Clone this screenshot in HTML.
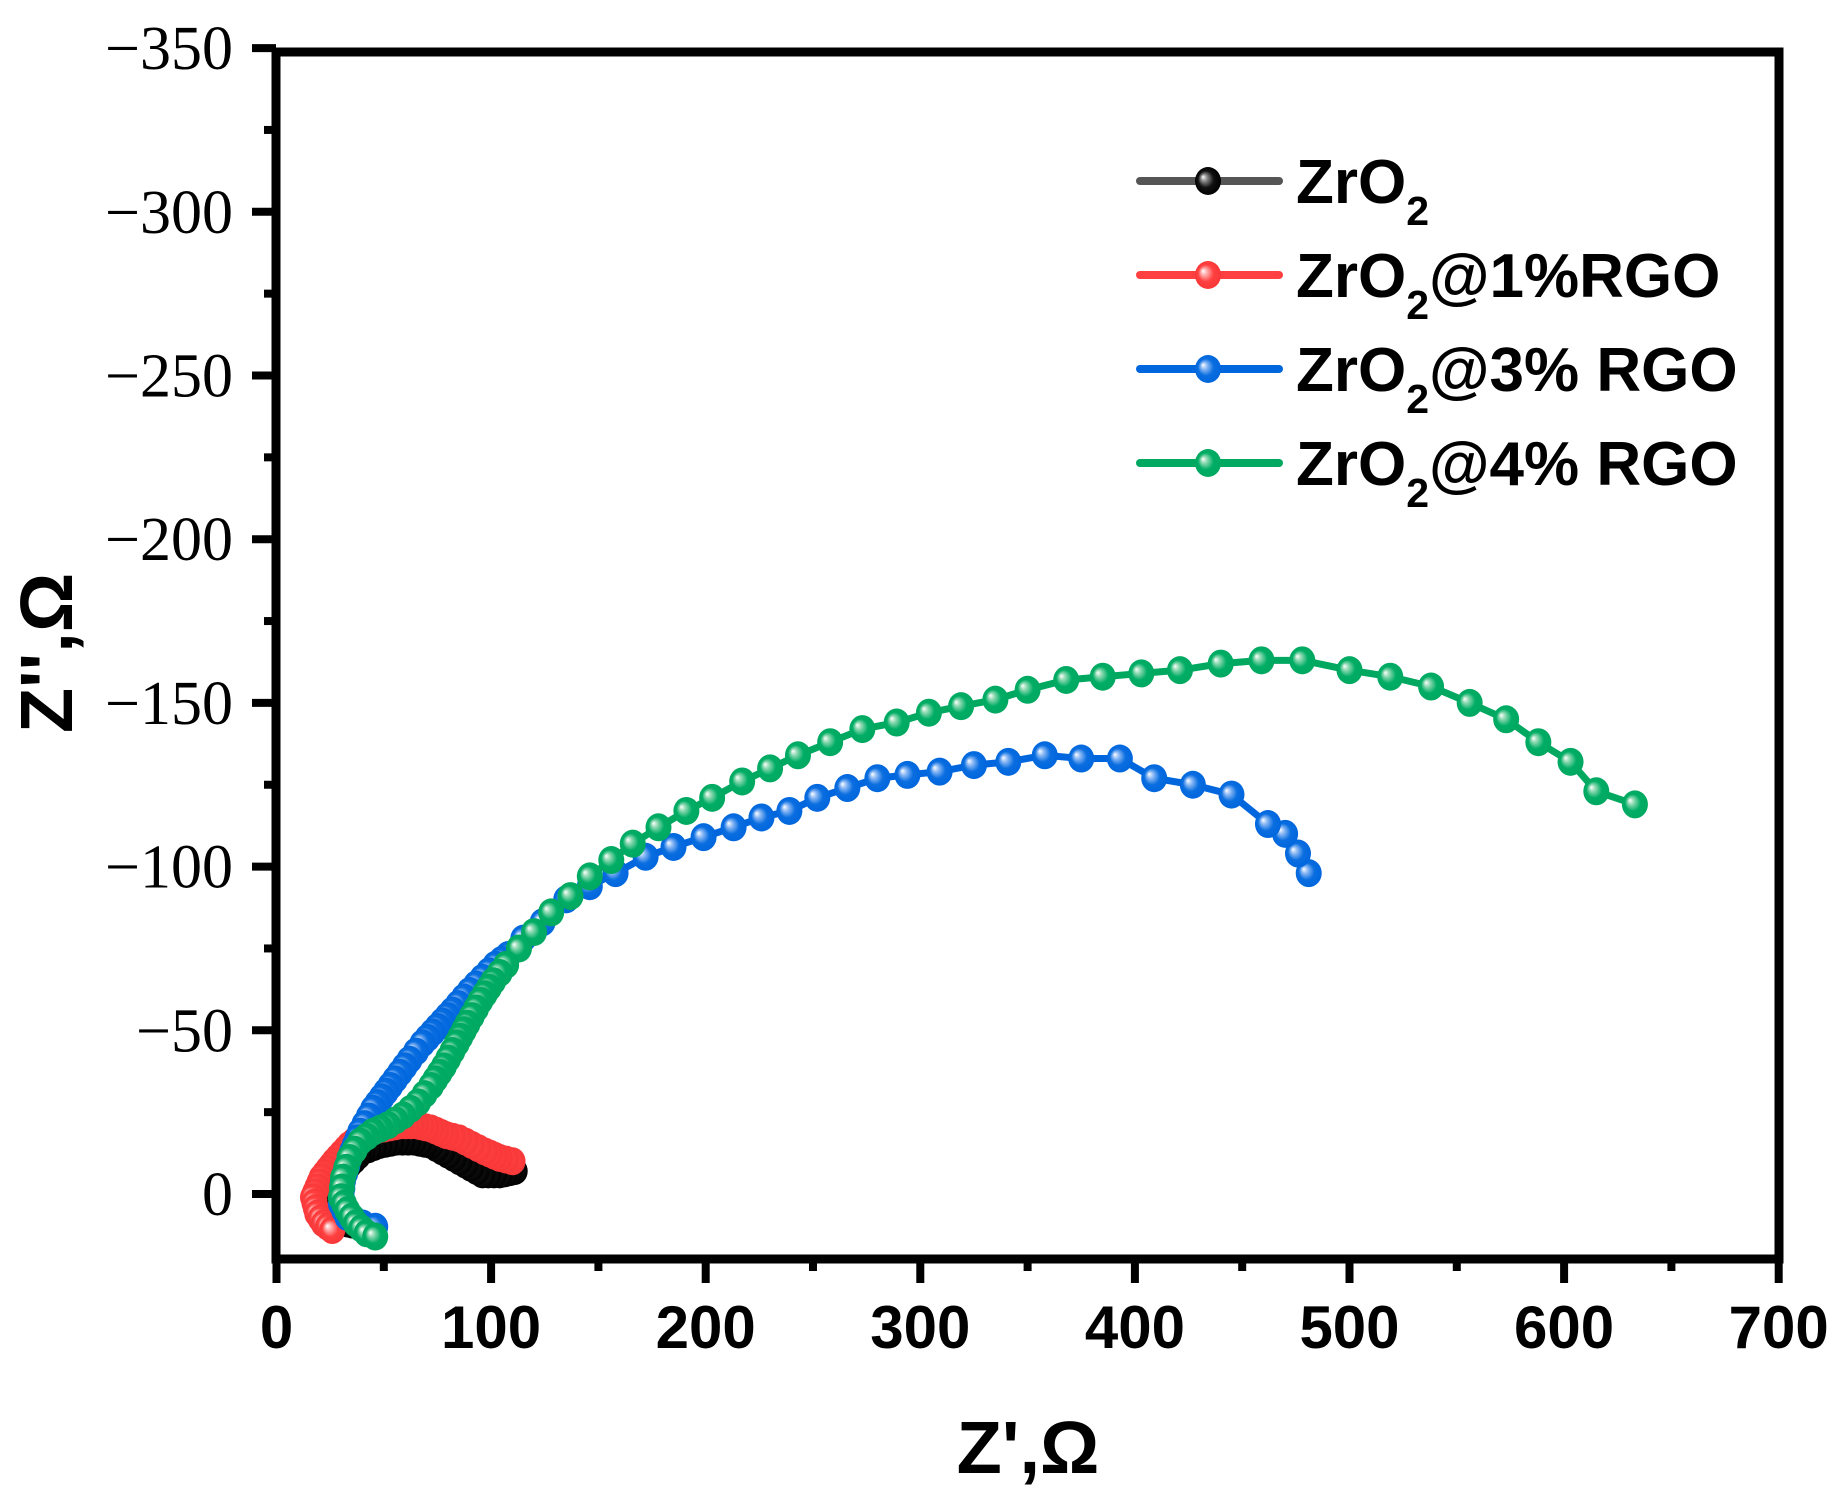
<!DOCTYPE html>
<html><head><meta charset="utf-8"><style>
html,body{margin:0;padding:0;background:#fff}
svg{display:block}
</style></head><body>
<svg id="s" width="1844" height="1503" viewBox="0 0 1844 1503" xmlns="http://www.w3.org/2000/svg">
<defs>
<radialGradient id="gk" cx="0.5" cy="0.5" r="0.5" fx="0.3" fy="0.35"><stop offset="0" stop-color="#fff"/><stop offset="0.25" stop-color="#888"/><stop offset="0.6" stop-color="#111"/><stop offset="1" stop-color="#000"/></radialGradient>
<radialGradient id="gr" cx="0.5" cy="0.5" r="0.5" fx="0.3" fy="0.35"><stop offset="0" stop-color="#fff"/><stop offset="0.25" stop-color="#ffaaaa"/><stop offset="0.6" stop-color="#ff4040"/><stop offset="1" stop-color="#f83838"/></radialGradient>
<radialGradient id="gb" cx="0.5" cy="0.5" r="0.5" fx="0.3" fy="0.35"><stop offset="0" stop-color="#fff"/><stop offset="0.25" stop-color="#8ab8f4"/><stop offset="0.6" stop-color="#0a6ee0"/><stop offset="1" stop-color="#0066dd"/></radialGradient>
<radialGradient id="gg" cx="0.5" cy="0.5" r="0.5" fx="0.3" fy="0.35"><stop offset="0" stop-color="#fff"/><stop offset="0.25" stop-color="#8ad8b0"/><stop offset="0.6" stop-color="#00ad65"/><stop offset="1" stop-color="#00a860"/></radialGradient>
</defs>
<g id="data"></g>
<rect x="276" y="52" width="1503" height="1207" fill="none" stroke="#000" stroke-width="9"/>
<g id="ticks" stroke="#000" stroke-width="8"></g>
<g font-family="'Liberation Serif',serif" font-size="62" text-anchor="end" id="ylab"></g>
<g font-family="'Liberation Sans',sans-serif" font-weight="bold" font-size="60" text-anchor="middle" id="xlab"></g>
<text x="1028" y="1473" font-family="'Liberation Sans',sans-serif" font-weight="bold" font-size="74" text-anchor="middle">Z',Ω</text>
<text transform="translate(72,653) rotate(-90)" font-family="'Liberation Sans',sans-serif" font-weight="bold" font-size="74" text-anchor="middle">Z'',Ω</text>
<g font-family="'Liberation Sans',sans-serif" font-weight="bold" font-size="62">
<line x1="1140" y1="181" x2="1279" y2="181" stroke="#555" stroke-width="8" stroke-linecap="round"/>
<ellipse cx="1208" cy="181" rx="13" ry="14" fill="url(#gk)"/>
<text x="1296" y="203">ZrO<tspan font-size="41" dy="22">2</tspan></text>
<line x1="1140" y1="275" x2="1279" y2="275" stroke="#ff4040" stroke-width="8" stroke-linecap="round"/>
<ellipse cx="1208" cy="275" rx="13" ry="14" fill="url(#gr)"/>
<text x="1296" y="297">ZrO<tspan font-size="41" dy="22">2</tspan><tspan dy="-22">@1%RGO</tspan></text>
<line x1="1140" y1="369" x2="1279" y2="369" stroke="#0066dd" stroke-width="8" stroke-linecap="round"/>
<ellipse cx="1208" cy="369" rx="13" ry="14" fill="url(#gb)"/>
<text x="1296" y="391">ZrO<tspan font-size="41" dy="22">2</tspan><tspan dy="-22">@3% RGO</tspan></text>
<line x1="1140" y1="463" x2="1279" y2="463" stroke="#00a860" stroke-width="8" stroke-linecap="round"/>
<ellipse cx="1208" cy="463" rx="13" ry="14" fill="url(#gg)"/>
<text x="1296" y="485">ZrO<tspan font-size="41" dy="22">2</tspan><tspan dy="-22">@4% RGO</tspan></text>
</g>
</svg>
<script>
var NS="http://www.w3.org/2000/svg";
function X(v){return 276.5+v*2.146;}
function Y(v){return 1194-v*3.274;}
function el(n,a,p){var e=document.createElementNS(NS,n);for(var k in a)e.setAttribute(k,a[k]);p.appendChild(e);return e;}
var tk=document.getElementById('ticks'),yl=document.getElementById('ylab'),xl=document.getElementById('xlab');
for(var v=0;v<=350;v+=25){var y=Y(v);var maj=v%50==0;el('line',{x1:maj?252:264,x2:276,y1:y,y2:y},tk);
 if(maj){var t=el('text',{x:233,y:y+21},yl);t.textContent=(v==0?'0':'\u2212'+v);}}
for(var v=0;v<=700;v+=50){var x=X(v);var maj=v%100==0;el('line',{x1:x,x2:x,y1:1259,y2:maj?1283:1271},tk);
 if(maj){var t=el('text',{x:x,y:1348},xl);t.textContent=v;}}
var series=[
 {c:'#000',g:'gk',p:[[111,7],[104,6],[96,6],[88,9],[80,12],[72,15],[64,16],[56,16],[48,15],[40,13],[34,9],[30,5],[27,0],[28,-5],[33,-9],[40,-10],[45,-11]],st:5},
 {c:'#ff4040',g:'gr',p:[[110,10],[104,11],[97,13],[91,15],[85,17],[79,18],[72,20],[65,21],[58,21],[50,20],[42,19],[34,15],[27,10],[21,5],[17,-1],[19,-6],[22,-9],[26,-11]],st:5},
 {c:'#0066dd',g:'gb',p:[[481,98],[476,104],[470,110],[462,113],[445,122],[427,125],[409,127],[393,133],[375,133],[358,134],[341,132],[325,131],[309,129],[294,128],[280,127],[266,124],[252,121],[239,117],[226,115],[213,112],[199,109],[185,106],[172,103],[158,98],[146,94],[135,90],[124,83],[115,78],[108,73],[102,70],[96,66],[90,62],[82,56],[75,51],[68,46],[62,41],[53,33],[45,26],[39,19],[34,11],[31,4],[30,-3],[33,-7],[40,-9],[46,-10]]},
 {c:'#00a860',g:'gg',p:[[633,119],[615,123],[603,132],[588,138],[573,145],[556,150],[538,155],[519,158],[500,160],[478,163],[459,163],[440,162],[421,160],[403,159],[385,158],[368,157],[350,154],[335,151],[319,149],[304,147],[289,144],[273,142],[258,138],[243,134],[230,130],[217,126],[203,121],[191,117],[178,112],[166,107],[156,102],[146,97],[137,91],[128,86],[120,80],[113,75],[107,70],[101,65],[95,59],[89,52],[84,46],[78,39],[72,33],[66,28],[59,24],[52,21],[45,19],[39,16],[34,11],[31,5],[30,-1],[33,-5],[37,-9],[42,-12],[46,-13]]}
];
var D=document.getElementById('data');
series.forEach(function(s){
 var pts=s.p.map(function(q){return [X(q[0]),Y(q[1])];});
 el('polyline',{points:pts.map(function(q){return q.join(',')}).join(' '),fill:'none',stroke:s.c,'stroke-width':7,'stroke-linejoin':'round'},D);
 var out=[];
 for(var i=0;i<pts.length;i++){
  out.push(pts[i]);
  if(i<pts.length-1){
   var a=pts[i],b=pts[i+1],d=Math.hypot(b[0]-a[0],b[1]-a[1]);
   var xd=s.p[i][0];
   var step=(s.st)?s.st:(xd<110?7:100);
   var n=Math.floor(d/step);
   for(var k=1;k<n;k++)out.push([a[0]+(b[0]-a[0])*k/n,a[1]+(b[1]-a[1])*k/n]);
  }
 }
 out.forEach(function(q){el('ellipse',{cx:q[0],cy:q[1],rx:13,ry:14,fill:'url(#'+s.g+')'},D);});
});
</script>
</body></html>
